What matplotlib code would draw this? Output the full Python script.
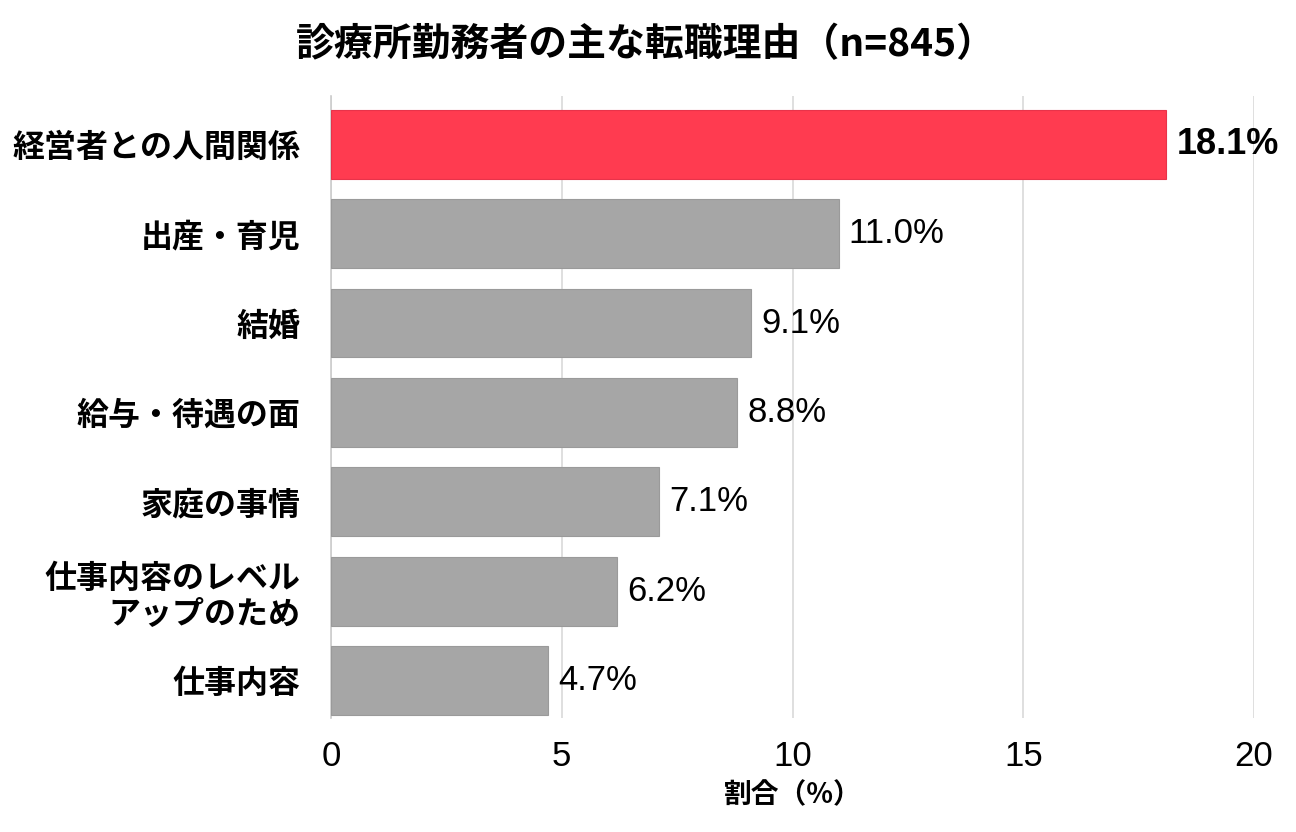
import matplotlib
matplotlib.use("Agg")
import matplotlib.pyplot as plt

plt.rcParams["font.family"] = ["Noto Sans CJK JP", "DejaVu Sans"]

# data (top to bottom)
reasons = [
    "経営者との人間関係",
    "出産・育児",
    "結婚",
    "給与・待遇の面",
    "家庭の事情",
    "仕事内容のレベル\nアップのため",
    "仕事内容",
]
shares = [18.1, 11.0, 9.1, 8.8, 7.1, 6.2, 4.7]
xticks = [0, 5, 10, 15, 20]

RED = "#FF3B50"
GRAY = "#A6A6A6"

fig = plt.figure(figsize=(12.96, 8.32), dpi=100)
ax = fig.add_axes([0.2554, 0.137, 0.7122, 0.7476])

ypos = list(range(len(reasons)))
colors = [RED] + [GRAY] * (len(reasons) - 1)
edges = ["#E8334A"] + ["#9A9A9A"] * (len(reasons) - 1)
ax.barh(ypos, shares, height=0.77, color=colors, edgecolor=edges,
        linewidth=0.8, zorder=3)

for i, v in enumerate(shares):
    ax.text(v + 0.22, i, f"{v:.1f}%", va="center", ha="left",
            fontsize=26 if i == 0 else 25,
            fontweight="bold" if i == 0 else "normal",
            family="Liberation Sans", color="black", zorder=4)

ax.set_xlim(0, 20)
ax.set_ylim(6.42, -0.54)
ax.set_yticks(ypos)
ax.set_yticklabels(reasons, fontsize=23, fontweight="bold", ha="right",
                   linespacing=1.12)
ax.set_xticks(xticks)
ax.set_xticklabels([str(t) for t in xticks], fontsize=25,
                   family="Liberation Sans")
ax.tick_params(axis="x", length=0, pad=16)
ax.tick_params(axis="y", length=0, pad=22)

ax.grid(axis="x", color="#D9D9D9", linewidth=1.2, zorder=0)
for s in ["top", "right", "bottom"]:
    ax.spines[s].set_visible(False)
ax.spines["left"].set_color("#CCCCCC")
ax.spines["left"].set_linewidth(1.2)

ax.set_xlabel("割合（%）", fontsize=20, fontweight="bold", labelpad=6)

fig.text(0.4985, 0.946, "診療所勤務者の主な転職理由（n=845）",
         ha="center", va="center", fontsize=28, fontweight="bold")

fig.savefig("out.png", dpi=100, facecolor="white")
